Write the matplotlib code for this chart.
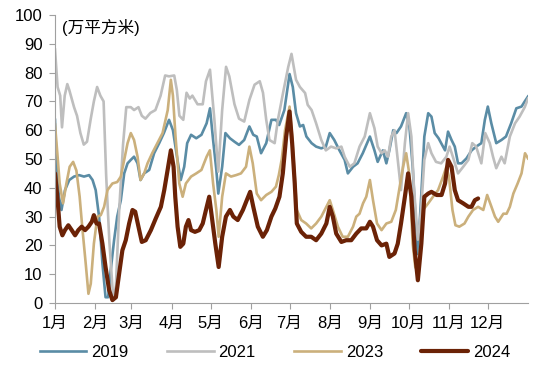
import matplotlib
matplotlib.use('Agg')
import matplotlib.pyplot as plt

plt.rcParams['font.family'] = ['Liberation Sans', 'Noto Sans CJK SC', 'DejaVu Sans']

# x: 日 (一年中的第几天), y: 万平方米
day_2019 = [0, 1, 3, 5, 7.7, 11, 14.7, 18.6, 22.4, 26.3, 29, 31.4, 34, 36.6, 39, 41, 43, 45.6, 48,
            50.8, 53.4, 56, 58.5, 61, 63.7, 66, 68.8, 72.7, 76.5, 80.4, 84, 88, 91, 94.5, 97, 99.7,
            102, 105, 109, 113, 117, 119.6, 122, 124.5, 126, 129, 131.5, 135, 138.5, 142, 146, 150,
            153, 155.7, 159, 163, 167, 170.5, 173, 177, 181, 183.5, 186, 189, 191.5, 194, 198,
            201.5, 205.5, 209, 212, 215.5, 219.5, 223.5, 226, 230, 233.5, 237.5, 243, 246.5, 249,
            253, 255.7, 258, 261, 263.5, 267, 271, 273.5, 276, 277.6, 280, 282.7, 285, 288, 290.5,
            293, 296, 298, 301, 303.3, 306, 308.5, 311, 313.7, 317.5, 321.5, 325, 329, 331.7, 334,
            336.7, 340.5, 344.5, 348, 352, 356, 360, 362.5, 365]
val_2019 = [63.6, 49.7, 36.9, 32.3, 39.2, 42.7, 43.9, 44.4, 43.9, 44.4, 42.7, 39.2, 30, 13.7, 2, 2,
            11.4, 21.8, 30, 35.7, 45, 48.5, 49.7, 50.8, 48.5, 42.7, 45, 46.2, 52, 55.5, 59, 63.6,
            60, 49.7, 42.7, 47.3, 55.5, 58.4, 57.2, 58.4, 62.4, 67.6, 56.6, 46.2, 38, 47.3, 59,
            57.2, 56, 54.9, 56.6, 61.3, 58.4, 57.8, 52, 55.5, 63.6, 63.6, 61.8, 67, 79.5, 75, 65.9,
            61.3, 61.8, 57.8, 55.5, 54.3, 53.7, 54.3, 59, 56.6, 53, 49.7, 45, 47.3, 48.5, 52, 57.8,
            53, 49, 53, 48.5, 53, 60, 59, 61.3, 65.9, 61.3, 47.3, 34.6, 17, 38, 57.8, 65.9, 64.7,
            59, 57.2, 55.5, 53, 59.5, 56.6, 54.3, 48.5, 48.5, 50.2, 53, 54.3, 55.5, 63.6, 68.2,
            62.4, 55.5, 56.6, 57.8, 62.4, 67.6, 68.2, 70, 71.7]

day_2021 = [0, 2, 4, 5.4, 7.5, 9.5, 11, 14.7, 17, 19.6, 22.2, 24.7, 27.6, 30, 32.5, 35, 37.5, 39.5,
            42, 45, 47, 49.5, 52.5, 55, 58.5, 61, 64.4, 67, 69.8, 73.6, 77.5, 81.5, 85, 88, 92, 94,
            96, 99, 101.5, 104, 106, 110, 114, 116.5, 119.6, 123, 126, 129, 132, 134.5, 138.5, 142,
            146, 150, 154, 158, 160.5, 163, 165.5, 169.5, 172, 176, 180, 182.5, 186, 189, 193, 195,
            198, 201.5, 205.5, 209, 213, 217, 221, 223.5, 227.5, 231, 235, 239, 243, 246.5, 249,
            252, 254.5, 257, 259.5, 262, 264.5, 267, 270, 272.5, 275, 277, 280, 282.5, 285, 288,
            290.5, 294, 298, 302, 304.5, 307, 311, 315, 319, 322, 325, 329, 332, 335.5, 338, 340.5,
            344.5, 347, 351, 355, 358.5, 362.5, 365]
val_2021 = [88, 75, 72, 61, 72, 76, 74, 68, 65, 59, 55, 56, 64, 70, 75, 72, 70, 44, 21, 1, 6, 32,
            55, 68, 68, 67, 68, 65, 64, 66, 67, 72, 79, 78.7, 79, 74, 65, 63.6, 73, 71, 72, 69, 69,
            77, 81, 63.6, 45.6, 67, 82, 78.7, 69, 64, 63, 70.5, 75.8, 77, 73, 63.6, 56.6, 55.5,
            63.6, 73, 82, 86.5, 77.5, 75, 72.9, 68.8, 67, 62.4, 56.6, 53, 54.3, 53.7, 54.3, 50.8,
            47.3, 48.5, 54.3, 57.8, 65.9, 60.7, 54.3, 52, 53, 50.8, 57.8, 60, 49.7, 39.2, 55.5, 65.9,
            57.8, 40, 22, 32, 49.7, 55.5, 52, 49, 48.5, 50.8, 54.3, 50.8, 45, 47.3, 49.7, 55.5,
            54.3, 48.5, 59, 55.5, 50.8, 46.8, 50.8, 48.5, 57.8, 62.4, 64.7, 68, 71]

day_2023 = [0, 1.8, 3.6, 6.2, 8.8, 11.3, 14, 16.5, 19, 21, 23.7, 25.8, 27.6, 30, 32.7, 35.3, 37.9,
            40.5, 44.3, 48, 50.8, 53.4, 56, 58.5, 61, 63.7, 66, 68.8, 71.4, 75, 79, 83, 87, 89.4,
            91, 93, 95.9, 98.5, 101, 105, 109, 113, 117, 119.5, 122, 124.5, 126.3, 129, 131.9,
            135.8, 139.7, 143.5, 147.4, 150, 152.6, 155.7, 159, 163, 167, 170.5, 172.7, 175, 177.5,
            181, 183, 185, 186.6, 190, 193.8, 197.7, 201.5, 205.5, 209.4, 212, 214.4, 218.3, 222,
            226, 230, 232.5, 235, 237.7, 240.2, 243, 245.4, 248.5, 252, 255.7, 259.5, 263, 266,
            268.6, 271, 273.7, 276, 278, 280, 282, 284, 288, 291.7, 295.6, 299.5, 302, 304, 306.7,
            309, 312, 316, 319, 322.6, 326.5, 330.5, 333.5, 336.8, 339.5, 342, 346, 348.5, 351,
            353.7, 357, 360, 362.7, 365]
val_2023 = [62, 52, 41.5, 34.6, 41.5, 47.3, 49, 46, 37, 26.5, 13.7, 3.2, 6.7, 20.6, 30, 30.5, 33.4,
            39.2, 41.5, 42, 43.9, 49.7, 55.5, 59, 56.6, 50.8, 42.7, 45, 48.5, 52, 55.5, 59, 67,
            77.5, 72, 57.8, 41.5, 36.9, 41.5, 43.9, 45, 46.2, 50.8, 53, 41.5, 32.3, 23, 36.9, 45,
            43.9, 44.4, 45, 47.3, 54.3, 48.5, 38, 35.7, 37.5, 38.6, 40.4, 44.4, 50, 60, 68.2, 57.8,
            43.9, 32.3, 28.8, 27.6, 25.9, 27.6, 30, 33.4, 35.7, 32.3, 26.5, 23, 23, 26.5, 30, 31,
            34.6, 36.9, 42.7, 35.7, 27.6, 25.3, 27.6, 28.2, 32.3, 40.4, 47.3, 52, 43.9, 20.6,
            12.5, 11, 20, 32.3, 34.6, 36.9, 39.2, 43.9, 47.3, 43.9, 32.3, 27, 26.5, 27.6, 30, 32.3,
            33.4, 32.3, 37.5, 33.4, 30, 28.2, 31, 31, 33.4, 38, 41.5, 45, 52, 50.2]

day_2024 = [0, 1.8, 3.6, 5.7, 7.7, 10.3, 12.9, 15.5, 18, 20.6, 23.2, 25.8, 28.4, 30, 32, 34, 36.6,
            39, 41.8, 44.3, 47, 49.5, 52, 54.6, 57.2, 59.8, 61.9, 64.4, 67, 70, 74, 77.8, 81.7,
            84.3, 86.9, 89.4, 91.5, 92.8, 94.6, 96.7, 99, 101, 103, 105, 108, 111.3, 114, 116.5,
            119, 121, 123.7, 126.3, 129, 131.9, 135, 137.6, 141, 145, 148, 150.6, 153, 156.5, 160.4,
            163.5, 167, 170, 173.2, 175.8, 178.4, 181, 183, 185, 186.6, 190, 193.8, 197.7, 201.5,
            205.5, 209.4, 212, 214.4, 217, 221, 224.7, 228.6, 232.5, 236.3, 240.2, 243, 245.4,
            248.5, 252, 255.7, 258, 262, 264.5, 267, 270, 272.5, 275, 277.6, 280, 282.7, 285, 288,
            290.5, 294.5, 298.3, 301, 303.3, 306, 308.5, 311, 315, 319, 321.4, 324, 326.5]
val_2024 = [45, 36.9, 26.5, 23.5, 25.3, 27, 25.3, 23.5, 25.3, 26.5, 25.3, 26.5, 28.2, 30.5, 27.6,
            27.6, 20.6, 12.5, 4.4, 1, 2, 10.2, 18.3, 21.8, 27.6, 32.3, 31.7, 26.5, 21.2, 21.8,
            25.3, 29.4, 33.4, 39.2, 46.2, 53, 47.3, 36.9, 26.5, 19.5, 20.6, 26.5, 28.8, 25.3, 24.7,
            25.3, 27.6, 32.3, 36.9, 30, 20.6, 12.5, 23, 30, 32.3, 30, 28.8, 32.3, 35.7, 38.6, 33.4,
            26.5, 23, 25.3, 30, 32.8, 36.9, 45, 57.8, 66.5, 55.5, 41.5, 27.6, 24.7, 23, 23, 21.8,
            24.1, 27.6, 33.4, 30, 24.1, 21.2, 21.8, 21.8, 24.1, 25.9, 25.9, 28.2, 26.5, 21.8, 20,
            20.6, 16, 17.2, 20.6, 27.6, 36.9, 45, 36.9, 18.3, 7.9, 20.6, 36.9, 38, 38.6, 37.5, 37.5,
            41.5, 49.7, 47.3, 39.2, 35.7, 34.6, 33.4, 33.4, 35.7, 36.3]

month_starts = [0, 31, 59, 90, 120, 151, 181, 212, 243, 273, 304, 334]
month_labels = ['1月', '2月', '3月', '4月', '5月', '6月', '7月', '8月', '9月', '10月', '11月', '12月']

fig = plt.figure(figsize=(5.5, 3.75), dpi=100)
ax = fig.add_axes([0.100, 0.192, 0.860, 0.768])

ax.plot(day_2019, val_2019, color='#5A8CA5', lw=1.9, label='2019')
ax.plot(day_2021, val_2021, color='#BEBEBE', lw=1.9, label='2021')
ax.plot(day_2023, val_2023, color='#CBB07C', lw=1.9, label='2023')
ax.plot(day_2024, val_2024, color='#6B2206', lw=3.0, label='2024', solid_capstyle='round')

ax.set_xlim(0, 365)
ax.set_ylim(0, 100)
ax.set_yticks(range(0, 101, 10))
ax.set_xticks(month_starts)
ax.set_xticklabels(month_labels)
ax.tick_params(axis='both', labelsize=12, color='#A0A0A0', length=4, width=0.8)
ax.tick_params(axis='y', pad=5)
ax.tick_params(axis='x', pad=5)
for s in ['top', 'right']:
    ax.spines[s].set_visible(False)
for s in ['left', 'bottom']:
    ax.spines[s].set_color('#A0A0A0')
    ax.spines[s].set_linewidth(0.8)

ax.text(0.015, 0.955, '(万平方米)', transform=ax.transAxes, fontsize=12, va='center', ha='left')

fig.legend(loc='lower center', bbox_to_anchor=(0.5, 0.0), ncol=4, frameon=False,
           fontsize=12, handlelength=2.8, columnspacing=2.3, handletextpad=0.3)

plt.savefig('out.png', dpi=100)
